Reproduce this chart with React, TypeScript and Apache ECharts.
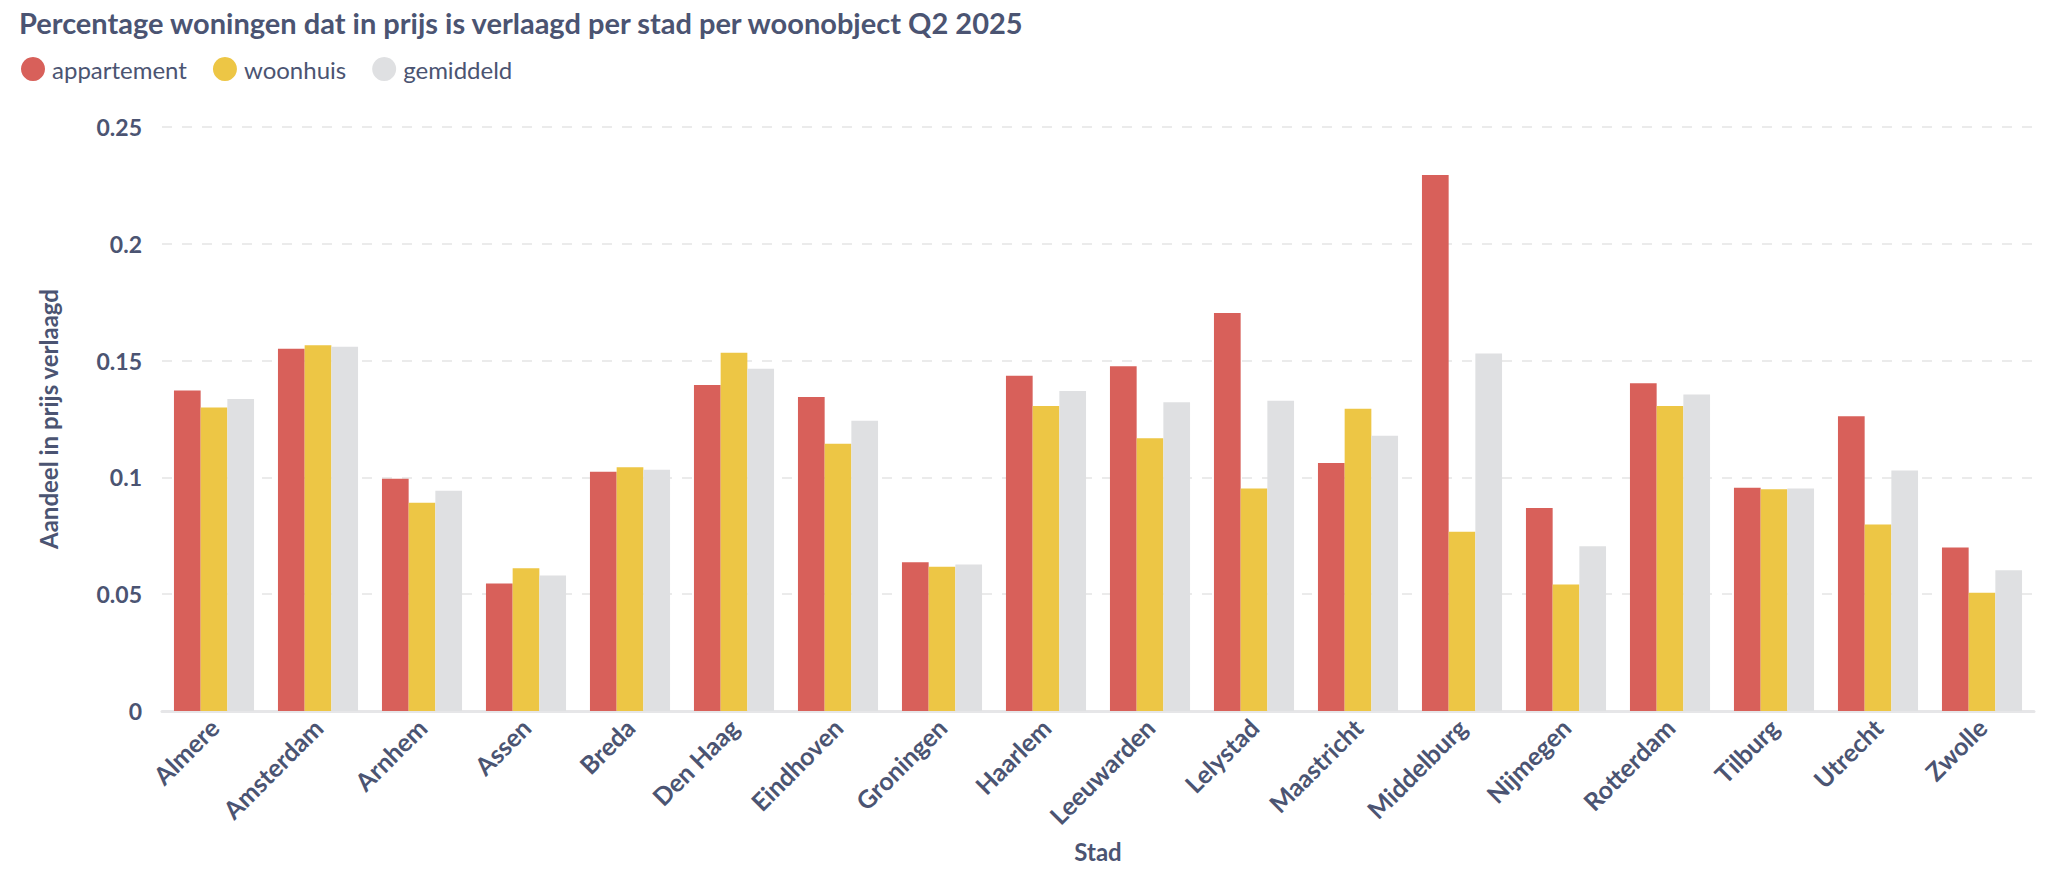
import React, { useEffect, useRef } from "react";
import * as echarts from "echarts";

const cities = [
  "Almere", "Amsterdam", "Arnhem", "Assen", "Breda", "Den Haag", "Eindhoven",
  "Groningen", "Haarlem", "Leeuwarden", "Lelystad", "Maastricht", "Middelburg",
  "Nijmegen", "Rotterdam", "Tilburg", "Utrecht", "Zwolle",
];

const appartement = [
  0.1372, 0.1551, 0.0994, 0.0546, 0.1024, 0.1396, 0.1344, 0.0637, 0.1435,
  0.1476, 0.1704, 0.1062, 0.2294, 0.0869, 0.1403, 0.0956, 0.1262, 0.07,
];
const woonhuis = [
  0.1299, 0.1566, 0.0892, 0.0611, 0.1043, 0.1534, 0.1144, 0.0617, 0.1306,
  0.1168, 0.0952, 0.1294, 0.0767, 0.0541, 0.1306, 0.0949, 0.0798, 0.0506,
];
const gemiddeld = [
  0.1336, 0.1559, 0.0943, 0.058, 0.1033, 0.1465, 0.1242, 0.0627, 0.137,
  0.1322, 0.1328, 0.1178, 0.153, 0.0705, 0.1355, 0.0953, 0.103, 0.0603,
];

const textColor = "#4b5472";
const font = "Lato, 'Noto Sans', sans-serif";

function App() {
  const chartRef = useRef<HTMLDivElement>(null);

  useEffect(() => {
    document.body.style.margin = "0";
    const myChart = echarts.init(chartRef.current!, null, { renderer: "svg" });
    const option: echarts.EChartsOption = {
      animation: false,
      textStyle: { fontFamily: font, color: textColor },
      title: {
        text: "Percentage woningen dat in prijs is verlaagd per stad per woonobject Q2 2025",
        left: 14,
        top: 3,
        textStyle: { fontFamily: font, fontSize: 29, fontWeight: "bold", color: textColor },
      },
      legend: {
        left: 16,
        top: 52,
        icon: "circle",
        itemWidth: 24,
        itemHeight: 24,
        itemGap: 26,
        textStyle: { fontFamily: font, fontSize: 24, color: textColor, padding: [0, 0, 0, 2] },
      },
      grid: { left: 162, right: 24, top: 127, bottom: 169 },
      xAxis: {
        type: "category",
        data: cities,
        name: "Stad",
        nameLocation: "middle",
        nameGap: 128,
        nameTextStyle: { fontFamily: font, fontSize: 24, fontWeight: "bold", color: textColor },
        axisLine: { lineStyle: { color: "#e6e6e8", width: 3 } },
        axisTick: { show: false },
        axisLabel: {
          rotate: 45,
          margin: 12,
          fontFamily: font,
          fontSize: 25,
          fontWeight: "bold",
          color: textColor,
        },
      },
      yAxis: {
        type: "value",
        min: 0,
        max: 0.25,
        interval: 0.05,
        name: "Aandeel in prijs verlaagd",
        nameLocation: "middle",
        nameGap: 102,
        nameTextStyle: { fontFamily: font, fontSize: 24, fontWeight: "bold", color: textColor },
        axisLabel: {
          margin: 20,
          fontFamily: font,
          fontSize: 23,
          fontWeight: "bold",
          color: textColor,
        },
        splitLine: { lineStyle: { color: "#ebebeb", width: 2, type: [10, 10] } },
      },
      series: [
        { name: "appartement", type: "bar", data: appartement, color: "#d8605a", barGap: "0%", barCategoryGap: "23%" },
        { name: "woonhuis", type: "bar", data: woonhuis, color: "#edc645", barGap: "0%", barCategoryGap: "23%" },
        { name: "gemiddeld", type: "bar", data: gemiddeld, color: "#dfe0e2", barGap: "0%", barCategoryGap: "23%" },
      ],
    };

    myChart.setOption(option);

    return () => {
      myChart.dispose();
    };
  }, []);

  return <div ref={chartRef} style={{ width: 2058, height: 880 }} />;
}

export default App;
